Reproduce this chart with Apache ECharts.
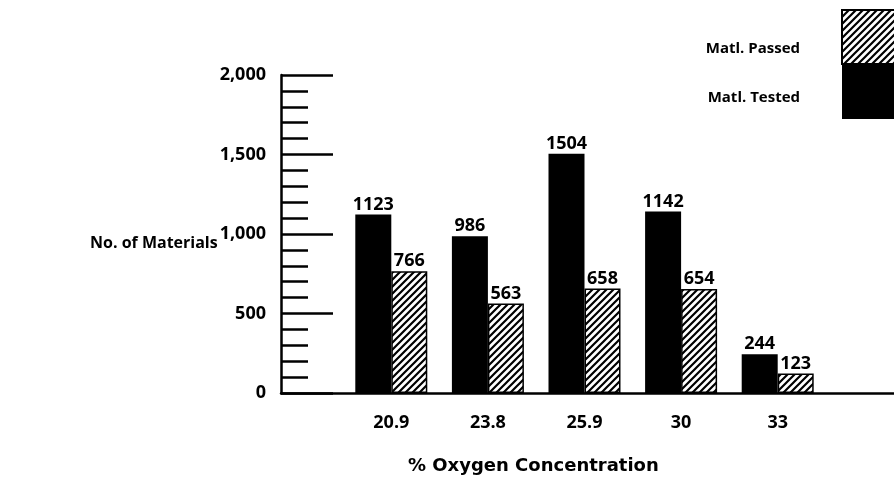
<!DOCTYPE html>
<html>
<head>
<meta charset="utf-8">
<script src="https://cdn.jsdelivr.net/npm/echarts@6/dist/echarts.min.js"></script>
<style>
    html, body { margin: 0; padding: 0; background: #fff; }
    #chart { width: 894px; height: 481px; }
</style>
</head>
<body>
<div id="chart"></div>
<script>
    // data
    var categories = ['20.9', '23.8', '25.9', '30', '33'];
    var tested = [1123, 986, 1504, 1142, 244];
    var passed = [766, 563, 658, 654, 123];
    var yTicks = [0, 500, 1000, 1500, 2000];
    var legendNames = ['Matl. Passed', 'Matl. Tested'];

    var FONT = '"Open Sans", "DejaVu Sans", sans-serif';
    var WIDE = '"DejaVu Sans", sans-serif';

    // hatch tile for the "passed" bars
    function hatch() {
        var c = document.createElement('canvas');
        c.width = 7; c.height = 7;
        var ctx = c.getContext('2d');
        ctx.fillStyle = '#fff';
        ctx.fillRect(0, 0, 7, 7);
        ctx.strokeStyle = '#000';
        ctx.lineWidth = 2.2;
        ctx.beginPath();
        ctx.moveTo(-1, 8); ctx.lineTo(8, -1);
        ctx.moveTo(-4, 4); ctx.lineTo(4, -4);
        ctx.moveTo(3, 11); ctx.lineTo(11, 3);
        ctx.stroke();
        return c;
    }
    var hatchFill = { image: hatch(), repeat: 'repeat' };

    var chart = echarts.init(document.getElementById('chart'));

    var labelText = { fontFamily: FONT, fontSize: 18, fontWeight: 'bold', color: '#000' };

    var option = {
        animation: false,
        textStyle: { fontFamily: FONT },
        title: [
            {
                text: 'No. of Materials',
                left: 85, top: 230,
                textStyle: { fontFamily: FONT, fontSize: 16, fontWeight: 'bold', color: '#000' }
            },
            {
                text: '% Oxygen Concentration',
                left: 403, top: 452,
                textStyle: { fontFamily: WIDE, fontSize: 18, fontWeight: 'bold', color: '#000' }
            },
            // legend captions sit lower than the swatch centres in the original
            {
                text: legendNames[0],
                right: 89, top: 36,
                textStyle: { fontFamily: FONT, fontSize: 15, fontWeight: 'bold', color: '#000' }
            },
            {
                text: legendNames[1],
                right: 89, top: 85,
                textStyle: { fontFamily: FONT, fontSize: 15, fontWeight: 'bold', color: '#000' }
            }
        ],
        legend: {
            data: [
                { name: legendNames[0], icon: 'rect' },
                { name: legendNames[1], icon: 'rect' }
            ],
            formatter: function () { return ''; },
            orient: 'vertical',
            right: -10,
            top: 4,
            align: 'right',
            itemWidth: 56,
            itemHeight: 54,
            itemGap: 0,
            selectedMode: false,
            textStyle: { fontSize: 1, padding: 0 }
        },
        grid: [
            { left: 281, right: 0, top: 75, bottom: 88 },
            { left: 343, right: 68, top: 75, bottom: 88 }
        ],
        xAxis: [
            {
                gridIndex: 0,
                type: 'category',
                data: [''],
                axisLine: { lineStyle: { color: '#000', width: 2.5 } },
                axisTick: { show: false },
                axisLabel: { show: false }
            },
            {
                gridIndex: 1,
                type: 'category',
                data: categories,
                axisLine: { show: false },
                axisTick: { show: false },
                axisLabel: Object.assign({ margin: 21 }, labelText)
            }
        ],
        yAxis: [
            {
                gridIndex: 0,
                type: 'value',
                min: yTicks[0],
                max: yTicks[yTicks.length - 1],
                interval: 500,
                axisLine: { show: true, lineStyle: { color: '#000', width: 2.5 } },
                axisTick: { show: true, inside: true, length: 52, lineStyle: { color: '#000', width: 2.5 } },
                minorTick: { show: true, splitNumber: 5, length: 27, lineStyle: { color: '#000', width: 2.5 } },
                splitLine: { show: false },
                axisLabel: Object.assign({
                    margin: 15,
                    formatter: function (v) { return v.toLocaleString('en-US'); }
                }, labelText)
            },
            {
                gridIndex: 1,
                type: 'value',
                min: yTicks[0],
                max: yTicks[yTicks.length - 1],
                show: false
            }
        ],
        series: [
            {
                name: legendNames[1],
                type: 'bar',
                xAxisIndex: 1,
                yAxisIndex: 1,
                barWidth: 36,
                barGap: 0,
                data: tested,
                itemStyle: { color: '#000' },
                label: Object.assign({ show: true, position: 'top', distance: 1 }, labelText)
            },
            {
                name: legendNames[0],
                type: 'bar',
                xAxisIndex: 1,
                yAxisIndex: 1,
                barWidth: 36,
                barGap: 0,
                data: passed,
                itemStyle: { color: hatchFill, borderColor: '#000', borderWidth: 1.5 },
                label: Object.assign({ show: true, position: 'top', distance: 1 }, labelText)
            }
        ]
    };

    chart.setOption(option);
</script>
</body>
</html>
